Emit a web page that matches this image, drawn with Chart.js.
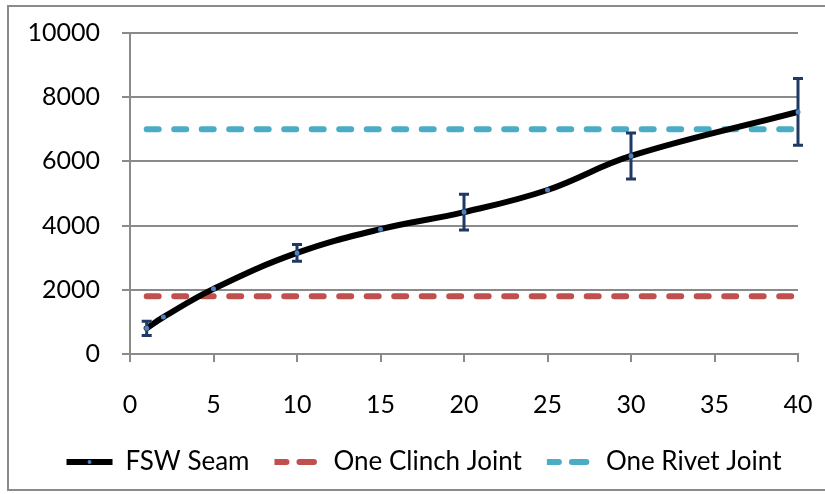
<!DOCTYPE html>
<html>
<head>
<meta charset="utf-8">
<script src="https://cdn.jsdelivr.net/npm/chart.js@4.4.1/dist/chart.umd.min.js"></script>
<style>
  html, body { margin: 0; padding: 0; background: #fff; }
  #wrap { position: relative; width: 825px; height: 494px; overflow: hidden; }
  #frame { position: absolute; left: 7px; top: 5px; width: 840px; height: 486px; border: 2px solid #8a8a8a; box-sizing: border-box; }
  canvas { position: absolute; left: 0; top: 0; }
</style>
</head>
<body>
<div id="wrap">
  <div id="frame"></div>
  <canvas id="chart" width="825" height="494"></canvas>
</div>
<script>
// dados
const seamX = [1, 2, 5, 10, 15, 20, 25, 30, 40];
const seamY = [800, 1150, 2030, 3150, 3890, 4420, 5110, 6170, 7540];
const seamErr = [220, 0, 0, 260, 0, 560, 0, 715, 1040];
const clinchX = [1, 40];
const clinchY = [1800, 1800];
const rivetX = [1, 40];
const rivetY = [7000, 7000];
const xTicks = [0, 5, 10, 15, 20, 25, 30, 35, 40];
const yTicks = [0, 2000, 4000, 6000, 8000, 10000];

const FONT = 'Lato';

function toPoints(xs, ys) {
    return xs.map((x, i) => ({ x: x, y: ys[i] }));
}

// barras de erro desenhadas pelas escalas
const errorBars = {
    id: 'errorBars',
    afterDatasetsDraw(chart) {
        const ctx = chart.ctx;
        const xs = chart.scales.x;
        const ys = chart.scales.y;
        ctx.save();
        ctx.strokeStyle = '#1f3864';
        ctx.lineWidth = 3;
        ctx.lineCap = 'butt';
        seamX.forEach((x, i) => {
            const e = seamErr[i];
            if (!e) return;
            const px = xs.getPixelForValue(x);
            const top = ys.getPixelForValue(seamY[i] + e);
            const bot = ys.getPixelForValue(seamY[i] - e);
            ctx.beginPath();
            ctx.moveTo(px, top);
            ctx.lineTo(px, bot);
            ctx.moveTo(px - 5, top);
            ctx.lineTo(px + 5, top);
            ctx.moveTo(px - 5, bot);
            ctx.lineTo(px + 5, bot);
            ctx.stroke();
        });
        // pontos por cima
        const meta = chart.getDatasetMeta(0);
        meta.data.forEach(p => {
            ctx.beginPath();
            ctx.fillStyle = '#4f81bd';
            ctx.arc(p.x, p.y, 2.5, 0, Math.PI * 2);
            ctx.fill();
        });
        ctx.restore();
    },
    afterDraw(chart) {
        // marcador no meio da amostra da legenda
        const box = chart.legend.legendHitBoxes[0];
        if (!box) return;
        const ctx = chart.ctx;
        ctx.save();
        ctx.fillStyle = '#4f81bd';
        ctx.beginPath();
        ctx.arc(box.left + 23, box.top + 13, 2, 0, Math.PI * 2);
        ctx.fill();
        ctx.restore();
    }
};

const ctx = document.getElementById('chart').getContext('2d');
new Chart(ctx, {
    type: 'line',
    data: {
        datasets: [
            {
                label: 'FSW Seam',
                data: toPoints(seamX, seamY),
                borderColor: '#000000',
                backgroundColor: '#000000',
                borderWidth: 6,
                borderCapStyle: 'round',
                tension: 0.4,
                pointRadius: 0,
                order: 0
            },
            {
                label: 'One Clinch Joint',
                data: toPoints(clinchX, clinchY),
                borderColor: '#c0504d',
                backgroundColor: '#c0504d',
                borderWidth: 6,
                borderDash: [12, 15.5],
                borderCapStyle: 'round',
                pointRadius: 0,
                order: 1
            },
            {
                label: 'One Rivet Joint',
                data: toPoints(rivetX, rivetY),
                borderColor: '#4bacc6',
                backgroundColor: '#4bacc6',
                borderWidth: 6,
                borderDash: [12, 15.5],
                borderCapStyle: 'round',
                pointRadius: 0,
                order: 2
            }
        ]
    },
    options: {
        responsive: false,
        animation: false,
        layout: { padding: { top: 33, right: 0, bottom: 9, left: 23 } },
        plugins: {
            tooltip: { enabled: false },
            legend: {
                position: 'bottom',
                labels: {
                    boxWidth: 46,
                    boxHeight: 0,
                    padding: 25,
                    color: '#000',
                    font: { family: FONT, size: 26 }
                }
            }
        },
        scales: {
            x: {
                type: 'linear',
                min: 0,
                max: 40,
                afterBuildTicks: s => { s.ticks = xTicks.map(v => ({ value: v })); },
                afterFit: s => { s.height = 70; s.paddingLeft = 0; s.paddingRight = 27; },
                border: { color: '#8a8a8a', width: 2 },
                grid: { drawOnChartArea: false, drawTicks: true, tickLength: 8, color: '#8a8a8a', lineWidth: 2 },
                ticks: { color: '#000', padding: 28, maxRotation: 0, callback: v => String(v), font: { family: FONT, size: 25 } }
            },
            y: {
                min: 0,
                max: 10000,
                afterBuildTicks: s => { s.ticks = yTicks.map(v => ({ value: v })); },
                afterFit: s => { s.width = 107; s.paddingTop = 0; s.paddingBottom = 0; },
                border: { color: '#8a8a8a', width: 2 },
                grid: { color: '#8a8a8a', lineWidth: 2, tickLength: 8 },
                ticks: { color: '#000', padding: 22, callback: v => String(v), font: { family: FONT, size: 25 } }
            }
        }
    },
    plugins: [errorBars]
});
</script>
</body>
</html>
